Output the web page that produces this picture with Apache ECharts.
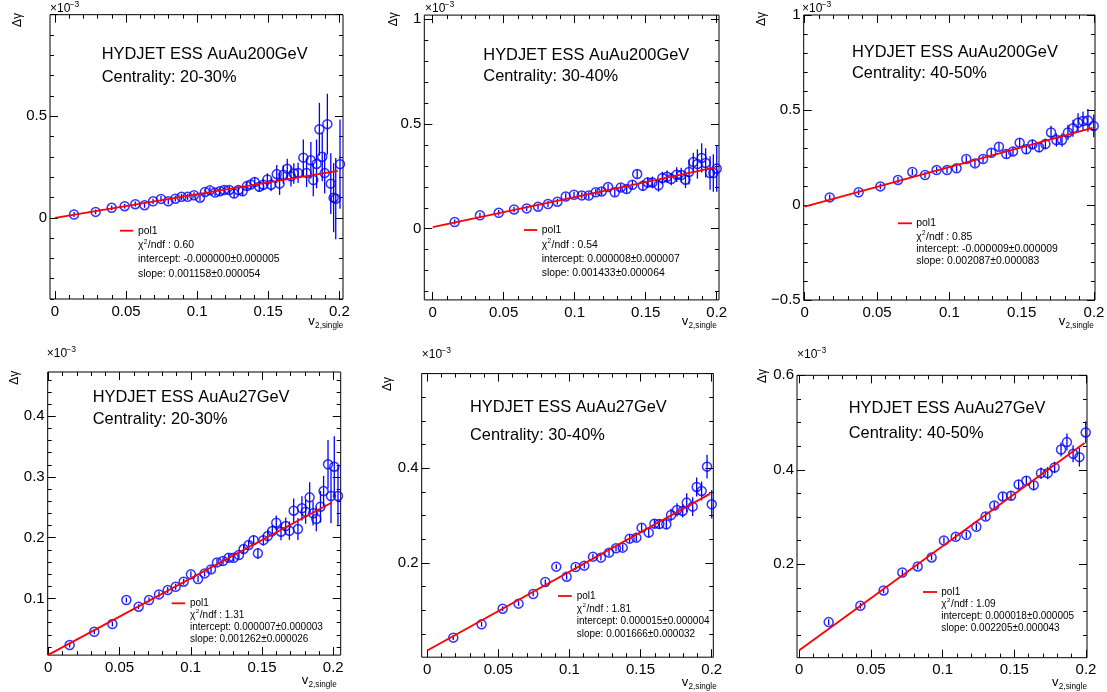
<!DOCTYPE html>
<html><head><meta charset="utf-8">
<script src="https://cdn.jsdelivr.net/npm/echarts@6/dist/echarts.min.js"></script>
<style>html,body{margin:0;padding:0;background:#fff}#c{width:1107px;height:692px}</style>
</head><body><div id="c"></div><script>
// ---------------- DATA (values in units of 1e-3 for Δγ) ----------------
const xTickLabels = [0, 0.05, 0.1, 0.15, 0.2];

const titles = ['HYDJET ESS AuAu200GeV','HYDJET ESS AuAu200GeV','HYDJET ESS AuAu200GeV','HYDJET ESS AuAu27GeV','HYDJET ESS AuAu27GeV','HYDJET ESS AuAu27GeV'];
const centralities = ['Centrality: 20-30%','Centrality: 30-40%','Centrality: 40-50%','Centrality: 20-30%','Centrality: 30-40%','Centrality: 40-50%'];
const chi2ndf = ['0.60','0.54','0.85','1.31','1.81','1.09'];
const interceptText = ['-0.000000±0.000005','0.000008±0.000007','-0.000009±0.000009','0.000007±0.000003','0.000015±0.000004','0.000018±0.000005'];
const slopeText = ['0.001158±0.000054','0.001433±0.000064','0.002087±0.000083','0.001262±0.000026','0.001666±0.000032','0.002205±0.000043'];
const fitIntercept = [0.0, 0.008, -0.009, 0.007, 0.015, 0.018];   // x1e-3
const fitSlope = [1.158, 1.433, 2.087, 1.262, 1.666, 2.205];       // x1e-3
const fitRange = [0, 0.199];

const p1YTicks = [0, 0.5];
const p2YTicks = [0, 0.5, 1];
const p3YTicks = [-0.5, 0, 0.5, 1];
const p4YTicks = [0.1, 0.2, 0.3, 0.4];
const p5YTicks = [0.2, 0.4];
const p6YTicks = [0.2, 0.4, 0.6];

const p1X = [0.0134,0.0286,0.0399,0.049,0.0565,0.063,0.069,0.0746,0.0797,0.0847,0.089,0.0933,0.0978,0.102,0.1055,0.109,0.1126,0.116,0.119,0.1226,0.126,0.129,0.132,0.135,0.1376,0.1405,0.1437,0.1466,0.1494,0.152,0.156,0.158,0.1606,0.1634,0.166,0.168,0.171,0.1747,0.177,0.180,0.1817,0.184,0.186,0.188,0.1897,0.1916,0.194,0.196,0.1975,0.2005];
const p1Y = [0.016,0.029,0.049,0.057,0.067,0.062,0.081,0.093,0.081,0.094,0.103,0.103,0.111,0.099,0.127,0.135,0.124,0.130,0.137,0.137,0.119,0.137,0.130,0.156,0.164,0.176,0.153,0.163,0.189,0.163,0.215,0.168,0.212,0.241,0.204,0.218,0.221,0.296,0.221,0.283,0.186,0.265,0.436,0.300,0.220,0.461,0.168,0.099,0.094,0.264];
const p1E = [0.012,0.012,0.012,0.012,0.013,0.013,0.013,0.014,0.014,0.014,0.015,0.015,0.015,0.016,0.016,0.017,0.017,0.018,0.018,0.019,0.02,0.02,0.021,0.022,0.023,0.025,0.026,0.028,0.03,0.032,0.045,0.055,0.045,0.05,0.05,0.05,0.05,0.09,0.07,0.09,0.08,0.12,0.13,0.12,0.1,0.15,0.15,0.17,0.2,0.22];

const p2X = [0.0155,0.0333,0.0465,0.0573,0.0662,0.0742,0.0812,0.0878,0.0937,0.0995,0.105,0.1099,0.1148,0.119,0.1235,0.1282,0.1324,0.1366,0.1406,0.144,0.148,0.1514,0.1547,0.159,0.1617,0.165,0.168,0.1718,0.175,0.178,0.1805,0.1835,0.1864,0.1894,0.1922,0.1953,0.1976,0.200];
const p2Y = [0.032,0.064,0.076,0.092,0.097,0.105,0.118,0.129,0.154,0.162,0.159,0.158,0.174,0.178,0.199,0.174,0.197,0.189,0.210,0.261,0.205,0.221,0.221,0.207,0.242,0.248,0.237,0.258,0.256,0.234,0.271,0.318,0.309,0.338,0.314,0.266,0.266,0.287];
const p2E = [0.012,0.012,0.013,0.013,0.013,0.014,0.014,0.014,0.015,0.015,0.015,0.016,0.016,0.017,0.017,0.018,0.018,0.019,0.02,0.02,0.025,0.025,0.028,0.03,0.03,0.03,0.03,0.035,0.035,0.04,0.06,0.045,0.07,0.07,0.07,0.08,0.09,0.11];

const p3X = [0.0173,0.0373,0.0523,0.0645,0.0744,0.0832,0.0912,0.0984,0.105,0.1117,0.1177,0.1233,0.129,0.1343,0.1394,0.144,0.1486,0.1532,0.1574,0.162,0.1664,0.1703,0.174,0.1779,0.182,0.1855,0.189,0.1924,0.1958,0.1998];
const p3Y = [0.040,0.067,0.098,0.132,0.174,0.158,0.184,0.184,0.193,0.242,0.219,0.242,0.275,0.307,0.268,0.282,0.328,0.293,0.319,0.304,0.321,0.382,0.342,0.342,0.382,0.404,0.433,0.442,0.445,0.416];
const p3E = [0.015,0.015,0.015,0.016,0.016,0.016,0.017,0.017,0.018,0.018,0.019,0.019,0.02,0.02,0.021,0.022,0.023,0.024,0.025,0.026,0.028,0.035,0.035,0.035,0.04,0.045,0.05,0.05,0.06,0.06];

const p4X = [0.015,0.0323,0.045,0.0548,0.0634,0.0707,0.0777,0.0838,0.0894,0.095,0.1001,0.1051,0.1097,0.1142,0.1184,0.1226,0.1266,0.1301,0.1338,0.1371,0.1406,0.1441,0.1471,0.1509,0.154,0.1572,0.16,0.1633,0.1666,0.1692,0.1722,0.1752,0.178,0.1806,0.1834,0.1858,0.1881,0.191,0.1932,0.1963,0.1984,0.2007,0.2033];
const p4Y = [0.0231,0.045,0.0577,0.0973,0.0863,0.0973,0.1066,0.1137,0.1192,0.1275,0.1396,0.1319,0.1412,0.1478,0.1593,0.1615,0.167,0.167,0.1714,0.1813,0.1879,0.196,0.1742,0.196,0.2027,0.211,0.2247,0.2099,0.2192,0.2115,0.2445,0.2143,0.2484,0.2429,0.2665,0.2401,0.2308,0.2511,0.2769,0.3209,0.2687,0.317,0.2687];
const p4E = [0.004,0.004,0.004,0.004,0.004,0.004,0.005,0.005,0.005,0.005,0.005,0.005,0.005,0.006,0.006,0.006,0.006,0.006,0.006,0.007,0.007,0.008,0.009,0.009,0.01,0.01,0.012,0.014,0.014,0.015,0.02,0.018,0.02,0.02,0.025,0.02,0.02,0.026,0.025,0.04,0.045,0.05,0.05];

const p5X = [0.0183,0.0382,0.053,0.0642,0.0745,0.083,0.0907,0.098,0.1043,0.1104,0.1165,0.1221,0.1278,0.1327,0.1374,0.1423,0.147,0.1507,0.1557,0.1597,0.1632,0.1681,0.1714,0.1756,0.1796,0.1824,0.1866,0.1894,0.1929,0.1967,0.2];
const p5Y = [0.0423,0.0704,0.1035,0.1141,0.1345,0.1599,0.1923,0.1711,0.1915,0.1944,0.2134,0.2113,0.2218,0.231,0.2324,0.2514,0.2535,0.2746,0.2641,0.2831,0.2824,0.2817,0.3014,0.312,0.3099,0.3275,0.319,0.3606,0.3521,0.4035,0.3239];
const p5E = [0.005,0.005,0.005,0.005,0.005,0.005,0.005,0.006,0.006,0.006,0.006,0.006,0.007,0.007,0.007,0.008,0.008,0.008,0.009,0.01,0.01,0.011,0.013,0.014,0.014,0.02,0.02,0.02,0.02,0.025,0.03];

const p6X = [0.0205,0.0426,0.0588,0.0719,0.0826,0.0923,0.1009,0.1091,0.1165,0.1235,0.13,0.136,0.1419,0.1477,0.153,0.1584,0.1635,0.1686,0.1733,0.1781,0.1826,0.1867,0.191,0.1954,0.1998];
const p6Y = [0.0776,0.1122,0.1446,0.1827,0.1954,0.2145,0.2504,0.2582,0.2624,0.2794,0.3012,0.3245,0.3436,0.345,0.369,0.3767,0.3675,0.3929,0.3929,0.4049,0.443,0.4586,0.4339,0.4268,0.479];
const p6E = [0.006,0.006,0.006,0.006,0.006,0.006,0.007,0.007,0.007,0.007,0.008,0.008,0.009,0.009,0.01,0.01,0.011,0.012,0.013,0.012,0.015,0.018,0.018,0.02,0.023];

// ---------------- LAYOUT ----------------
const FONT = '"Liberation Sans", Arial, Helvetica, sans-serif';
const layout = [
  {rect:[50,14.7,293,284.3], xr:[-0.0035,0.2026], yr:[-0.4,1.0], yMaj:0.5, yMin:0.1, title:[101.7,54.5], cent:[101.7,77.5], leg:{x1:120,x2:133,tx:138,rows:[230.7,245.5,259.5,274]}, dg:[17.5,20], x10:[50,9], v:[308.3,321]},
  {rect:[424.3,15.1,294.7,284.8], xr:[-0.0059,0.2016], yr:[-0.34,1.02], yMaj:0.5, yMin:0.1, title:[483.3,55], cent:[483.3,76.3], leg:{x1:524,x2:537,tx:541.7,rows:[230,244.7,259,272.7]}, dg:[393.3,19.2], x10:[425,9], v:[681.7,321]},
  {rect:[803.7,15,291.3,285], xr:[-0.0007,0.2007], yr:[-0.5,1.0], yMaj:0.5, yMin:0.1, title:[852,52], cent:[852,73], leg:{x1:898,x2:912,tx:916.3,rows:[223.3,236.7,249,261]}, dg:[762,19], x10:[802,9], v:[1058.7,321]},
  {rect:[47.7,372,293,283.1], xr:[-0.0004,0.2052], yr:[0.0066,0.473], yMaj:0.1, yMin:0.02, title:[92.7,397.7], cent:[92.7,419], leg:{x1:171.7,x2:185,tx:190,rows:[603.3,615,627.3,639.7]}, dg:[15,377.7], x10:[46.7,354], v:[301.7,680]},
  {rect:[421.7,373.6,291.6,283.6], xr:[-0.0039,0.2011], yr:[0.001,0.6], yMaj:0.2, yMin:0.05, title:[470,407.7], cent:[470,435.2], leg:{x1:558,x2:571.7,tx:576.7,rows:[596,609,621,634]}, dg:[387.5,384], x10:[421.7,355], v:[681.7,682]},
  {rect:[797,375.3,290,282.4], xr:[-0.0016,0.2007], yr:[0.0023,0.6], yMaj:0.2, yMin:0.05, title:[848.7,408], cent:[848.7,433.5], leg:{x1:923,x2:937,tx:941.3,rows:[592,604,616,628.7]}, dg:[762.7,376], x10:[797,355], v:[1052,682]}
];
const seriesData = [[p1X,p1Y,p1E],[p2X,p2Y,p2E],[p3X,p3Y,p3E],[p4X,p4Y,p4E],[p5X,p5Y,p5E],[p6X,p6Y,p6E]];
const yTickLabels = [p1YTicks,p2YTicks,p3YTicks,p4YTicks,p5YTicks,p6YTicks];

function mkTicks(min, max, step, exclude) {
  const out = [];
  for (let k = Math.ceil(min/step - 1e-9); k*step <= max + 1e-9; k++) {
    const v = +(k*step).toFixed(6);
    if (exclude && Math.abs(v/exclude - Math.round(v/exclude)) < 1e-6) continue;
    out.push(v);
  }
  return out;
}
const fmt = v => String(+(+v).toFixed(4)).replace('-', '\u2212');

const grid = [], xAxis = [], yAxis = [], series = [], graphic = [];
function txt(x, y, s, size, extra) {
  return Object.assign({type:'text', silent:true, style:{text:s, x:x, y:y, fontSize:size, fontFamily:FONT, fill:'#000',
    align:'left', verticalAlign:'middle', textAlign:'left', textVerticalAlign:'middle'}}, extra||{});
}

layout.forEach((L, i) => {
  const [gl, gt, gw, gh] = L.rect;
  grid.push({left:gl, top:gt, width:gw, height:gh, show:true, borderColor:'#000', borderWidth:1,
    backgroundColor:'transparent', containLabel:false, outerBoundsMode:'none'});
  const xMaj = mkTicks(L.xr[0], L.xr[1], 0.05), xMin = mkTicks(L.xr[0], L.xr[1], 0.01, 0.05);
  const yMaj = mkTicks(L.yr[0], L.yr[1], L.yMaj), yMin = mkTicks(L.yr[0], L.yr[1], L.yMin, L.yMaj);
  const base = {type:'value', gridIndex:i, splitLine:{show:false}, axisLine:{show:false, onZero:false}, offset:0};
  const tick = (vals, len) => ({show:true, inside:true, length:len, customValues:vals, lineStyle:{color:'#000', width:1}});
  const noLab = {show:false};
  // x axes: bottom major+labels, bottom minor, top major, top minor
  xAxis.push(Object.assign({}, base, {min:L.xr[0], max:L.xr[1], position:'bottom', axisTick:tick(xMaj,8),
    axisLabel:{show:true, customValues:xTickLabels, formatter:fmt, fontSize:15, fontFamily:FONT, color:'#000', margin:5}}));
  xAxis.push(Object.assign({}, base, {min:L.xr[0], max:L.xr[1], position:'bottom', axisTick:tick(xMin,4), axisLabel:noLab}));
  xAxis.push(Object.assign({}, base, {min:L.xr[0], max:L.xr[1], position:'top', axisTick:tick(xMaj,8), axisLabel:noLab}));
  xAxis.push(Object.assign({}, base, {min:L.xr[0], max:L.xr[1], position:'top', axisTick:tick(xMin,4), axisLabel:noLab}));
  yAxis.push(Object.assign({}, base, {min:L.yr[0], max:L.yr[1], position:'left', axisTick:tick(yMaj,8),
    axisLabel:{show:true, customValues:yTickLabels[i], formatter:fmt, fontSize:15, fontFamily:FONT, color:'#000', margin:3}}));
  yAxis.push(Object.assign({}, base, {min:L.yr[0], max:L.yr[1], position:'left', axisTick:tick(yMin,4), axisLabel:noLab}));
  yAxis.push(Object.assign({}, base, {min:L.yr[0], max:L.yr[1], position:'right', axisTick:tick(yMaj,8), axisLabel:noLab}));
  yAxis.push(Object.assign({}, base, {min:L.yr[0], max:L.yr[1], position:'right', axisTick:tick(yMin,4), axisLabel:noLab}));

  const [xs, ys, es] = seriesData[i];
  const ax = {xAxisIndex:4*i, yAxisIndex:4*i};
  series.push(Object.assign({type:'custom', silent:true, z:2,
    data: xs.map((x, j) => [x, ys[j], es[j]]),
    renderItem: (params, api) => {
      const x = api.value(0), y = api.value(1), e = api.value(2);
      const a = api.coord([x, y - e]), b = api.coord([x, y + e]);
      return {type:'line', shape:{x1:a[0], y1:a[1], x2:b[0], y2:b[1]}, style:{stroke:'#0000ff', lineWidth:1.3}};
    }}, ax));
  series.push(Object.assign({type:'scatter', silent:true, z:3, symbol:'circle', symbolSize:9,
    data: xs.map((x, j) => [x, ys[j]]),
    itemStyle:{color:'rgba(0,0,0,0)', borderColor:'#0000ff', borderWidth:1.5}}, ax));
  series.push(Object.assign({type:'line', silent:true, z:4, symbol:'none',
    data: fitRange.map(x => [x, fitIntercept[i] + fitSlope[i]*x]),
    lineStyle:{color:'#ff0000', width:1.8}}, ax));

  // texts
  graphic.push(txt(L.title[0], L.title[1], titles[i], 16.4));
  graphic.push(txt(L.cent[0], L.cent[1], centralities[i], 16.4));
  const lg = L.leg, fs = i < 3 ? 10.4 : 10;
  graphic.push({type:'line', silent:true, shape:{x1:lg.x1, y1:lg.rows[0], x2:lg.x2, y2:lg.rows[0]}, style:{stroke:'#ff0000', lineWidth:1.8}});
  graphic.push(txt(lg.tx, lg.rows[0], 'pol1', fs));
  graphic.push(txt(lg.tx, lg.rows[1], '\u03c7', fs));
  graphic.push(txt(lg.tx + 5.8, lg.rows[1] - 3.5, '2', fs*0.62));
  graphic.push(txt(lg.tx + 9.8, lg.rows[1], '/ndf : ' + chi2ndf[i], fs));
  graphic.push(txt(lg.tx, lg.rows[2], 'intercept: ' + interceptText[i], fs));
  graphic.push(txt(lg.tx, lg.rows[3], 'slope: ' + slopeText[i], fs));
  // axis titles
  graphic.push({type:'text', silent:true, x:L.dg[0], y:L.dg[1], rotation:Math.PI/2,
    style:{text:'\u0394\u03b3', x:0, y:0, fontSize:12, fontFamily:FONT, fill:'#000', align:'center', verticalAlign:'middle', textAlign:'center', textVerticalAlign:'middle'}});
  graphic.push(txt(L.x10[0], L.x10[1], '\u00d710', 12));
  graphic.push(txt(L.x10[0] + 19.5, L.x10[1] - 4.5, '\u22123', 8.5));
  graphic.push(txt(L.v[0], L.v[1], 'v', 13));
  graphic.push(txt(L.v[0] + 6.8, L.v[1] + 5, '2,single', 8.2));
});

const chart = echarts.init(document.getElementById('c'), null, {renderer:'canvas'});
chart.setOption({animation:false, backgroundColor:'#fff', grid, xAxis, yAxis, series, graphic});
</script></body></html>
